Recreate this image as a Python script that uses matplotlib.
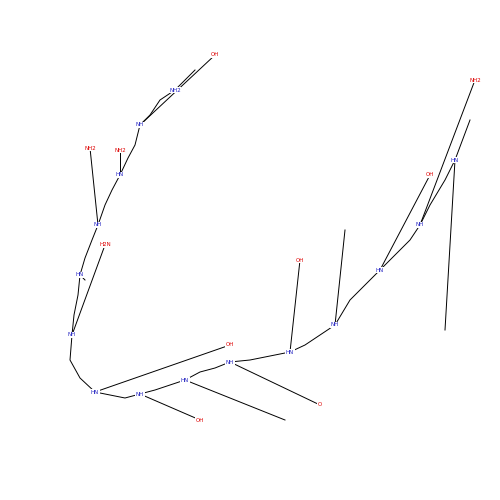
import matplotlib
matplotlib.use("Agg")
import matplotlib.pyplot as plt

# approximate atom positions (pixel coords) along the peptide backbone
backbone_x = [175,160,150,140,135,128,120,112,105,98,92,85,80,78,74,72,70,80,95,110,125,140,155,170,185,200,215,230,250,270,290,305,320,335,350,365,380,395,410,420,430,445,455,470]
backbone_y = [90,100,115,125,145,158,175,190,205,225,240,258,275,295,315,335,360,378,392,395,398,394,390,385,380,372,368,362,360,356,352,345,335,325,300,285,270,255,240,225,205,180,160,120]
label_idx = [0,3,6,9,12,15,18,21,24,27,30,33,36,39,42]
labels = ["NH2","NH","HN","NH","HN","NH","HN","NH","HN","NH","HN","NH","HN","NH","HN"]
side_x = [195,215,120,90,85,105,230,200,285,320,300,345,430,475,445]
side_y = [70,55,150,148,280,245,345,420,420,405,260,230,175,80,330]
side_lab = ["","OH","NH2","NH2","","H2N","OH","OH","","O","OH","","OH","NH2",""]

fig = plt.figure(figsize=(5,5), dpi=100)
ax = fig.add_axes([0,0,1,1])
ax.set_xlim(0,500); ax.set_ylim(500,0); ax.axis("off")
ax.plot(backbone_x, backbone_y, color="black", lw=0.7)
for i, j in enumerate(label_idx):
    ax.plot([backbone_x[j], side_x[i]], [backbone_y[j], side_y[i]], color="black", lw=0.7)
    if side_lab[i]:
        ax.text(side_x[i], side_y[i], side_lab[i], fontsize=4, color="#d00", ha="center", va="center",
                bbox=dict(fc="white", ec="none", pad=0.3))
for j, l in zip(label_idx, labels):
    ax.text(backbone_x[j], backbone_y[j], l, fontsize=4, color="#2020c0", ha="center", va="center",
            bbox=dict(fc="white", ec="none", pad=0.3))
fig.savefig("out.png", dpi=100, facecolor="white")
